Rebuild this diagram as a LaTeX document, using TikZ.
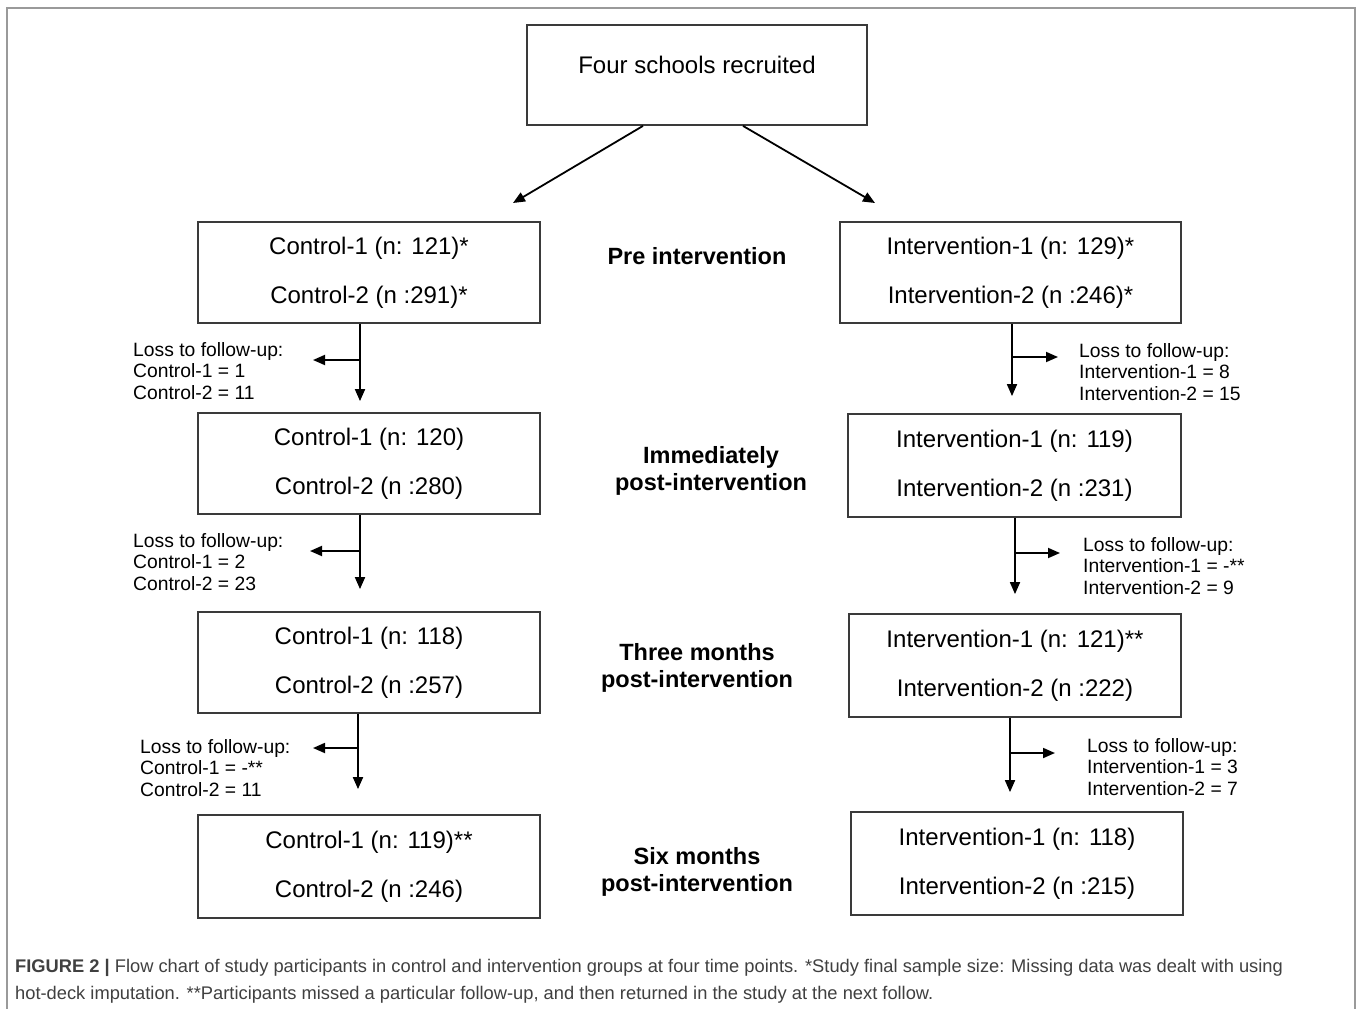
\documentclass[tikz,border=0pt]{standalone}
\usepackage{fontspec}
\setmainfont{Liberation Sans}
\usepackage{tikz}
\usetikzlibrary{positioning, arrows.meta, calc}
\definecolor{boxline}{HTML}{3A3A3A}
\definecolor{captext}{HTML}{404040}
\definecolor{framegray}{HTML}{9A9A9A}

\begin{document}
\begin{tikzpicture}[x=1pt, y=-1pt, >={Triangle[length=12pt, width=10pt]},
      group/.style={draw=boxline, line width=1.8pt, align=center, inner sep=0pt,
        minimum width=342pt, minimum height=101pt, font=\fontsize{24}{28}\selectfont},
      timept/.style={align=center, inner sep=0pt, font=\fontsize{23.5}{27}\selectfont\bfseries},
      losslbl/.style={anchor=west, align=left, inner sep=0pt, font=\fontsize{19.3}{21.5}\selectfont},
      flow/.style={->, line width=1.8pt}]
    \useasboundingbox (0,0) rectangle (1357,1009);
    \fill[white] (0,0) rectangle (1357,1009);
    \draw[framegray, line width=1.5pt] (7,1009) -- (7,8) -- (1355,8) -- (1355,1009);

    % recruitment and the two arms
    \node[group, minimum width=340pt, minimum height=100pt, text depth=21pt] (top) at (697,75) {Four schools recruited};
    \node[group] (c1) at (369,272.5) {Control-1 (n: 121)*\\[21pt] Control-2 (n :291)*};
    \node[group, minimum width=341pt] (i1) at (1010.5,272.5) {Intervention-1 (n: 129)*\\[21pt] Intervention-2 (n :246)*};
    \coordinate (e1) at (513,203);
    \coordinate (e2) at (875,203);
    \draw[flow] ($(top.south)+(-54,0)$) -- (e1);
    \draw[flow] ($(top.south)+(46,0)$) -- (e2);

    % control arm
    \node[group] (c2) at (369,463.5) {Control-1 (n: 120)\\[21pt] Control-2 (n :280)};
    \node[group] (c3) at (369,662.5) {Control-1 (n: 118)\\[21pt] Control-2 (n :257)};
    \node[group, minimum height=103pt] (c4) at (369,866.5) {Control-1 (n: 119)**\\[21pt] Control-2 (n :246)};

    % intervention arm
    \node[group, minimum width=333pt, minimum height=103pt] (i2) at (1014.5,465.5) {Intervention-1 (n: 119)\\[21pt] Intervention-2 (n :231)};
    \node[group, minimum width=332pt, minimum height=103pt] (i3) at (1015,665.5) {Intervention-1 (n: 121)**\\[21pt] Intervention-2 (n :222)};
    \node[group, minimum width=332pt, minimum height=103pt] (i4) at (1017,863.5) {Intervention-1 (n: 118)\\[21pt] Intervention-2 (n :215)};

    % time points
    \node[timept] (p1) at (697,256) {Pre intervention};
    \node[timept] (p2) at (711,471) {Immediately\\post-intervention};
    \node[timept] (p3) at (697,668) {Three months\\post-intervention};
    \node[timept] (p4) at (697,872) {Six months\\post-intervention};

    % loss to follow-up, control
    \node[losslbl] (l1) at (133,371) {Loss to follow-up:\\Control-1 = 1\\Control-2 = 11};
    \node[losslbl] (l2) at (133,562) {Loss to follow-up:\\Control-1 = 2\\Control-2 = 23};
    \node[losslbl] (l3) at (140,768) {Loss to follow-up:\\Control-1 = -**\\Control-2 = 11};
    \coordinate (b1) at (360,360);  \coordinate (t1) at (313,360);
    \coordinate (b2) at (360,551);  \coordinate (t2) at (310,551);
    \coordinate (b3) at (358,748);  \coordinate (t3) at (313,748);
    \draw[flow, shorten >=11pt] (c1.south -| b1) -- (c2.north -| b1);
    \draw[flow, shorten >=22pt] (c2.south -| b2) -- (c3.north -| b2);
    \draw[flow, shorten >=25pt] (c3.south -| b3) -- (c4.north -| b3);
    \draw[flow] (b1) -- (t1);
    \draw[flow] (b2) -- (t2);
    \draw[flow] (b3) -- (t3);

    % loss to follow-up, intervention
    \node[losslbl] (r1) at (1079,372) {Loss to follow-up:\\Intervention-1 = 8\\Intervention-2 = 15};
    \node[losslbl] (r2) at (1083,566) {Loss to follow-up:\\Intervention-1 = -**\\Intervention-2 = 9};
    \node[losslbl] (r3) at (1087,767) {Loss to follow-up:\\Intervention-1 = 3\\Intervention-2 = 7};
    \coordinate (b4) at (1012,357);  \coordinate (t4) at (1058,357);
    \coordinate (b5) at (1015,553);  \coordinate (t5) at (1060,553);
    \coordinate (b6) at (1010,753);  \coordinate (t6) at (1055,753);
    \draw[flow, shorten >=17pt] (i1.south -| b4) -- (i2.north -| b4);
    \draw[flow, shorten >=19pt] (i2.south -| b5) -- (i3.north -| b5);
    \draw[flow, shorten >=19pt] (i3.south -| b6) -- (i4.north -| b6);
    \draw[flow] (b4) -- (t4);
    \draw[flow] (b5) -- (t5);
    \draw[flow] (b6) -- (t6);

    % caption
    \node[anchor=west, align=left, inner sep=0pt, text=captext, font=\fontsize{18.3}{27}\selectfont] (cap) at (15,981)
      {\textbf{FIGURE 2 |} Flow chart of study participants in control and intervention groups at four time points. *Study final sample size: Missing data was dealt with using\\
       hot-deck imputation. **Participants missed a particular follow-up, and then returned in the study at the next follow.};
  \end{tikzpicture}
\end{document}
